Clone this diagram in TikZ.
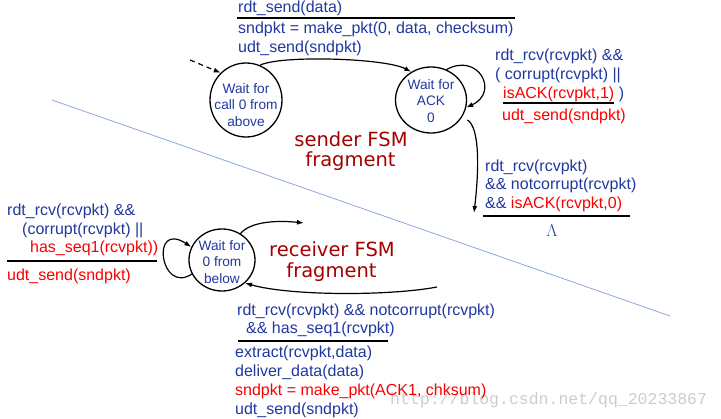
\documentclass[tikz,border=0pt]{standalone}
\usepackage{fontspec}
\setmainfont{Liberation Sans}
\newfontfamily\fsmfont{DejaVu Sans}
\newfontfamily\wmfont{Liberation Mono}
\usetikzlibrary{shapes.geometric,arrows.meta}
\definecolor{tblue}{RGB}{32,56,160}
\definecolor{tred}{RGB}{250,0,0}
\definecolor{fsmred}{RGB}{165,0,0}
\definecolor{divline}{RGB}{140,165,225}
\begin{document}
\begin{tikzpicture}[x=1pt,y=-1pt,
 lbl/.style={anchor=base west, inner sep=0pt, font=\fontsize{16}{19}\selectfont, text=tblue},
 state/.style={ellipse, draw, line width=1.3pt, inner sep=0pt},
 stxt/.style={align=center, inner sep=0pt, font=\fontsize{13.7}{16.5}\selectfont, text=tblue},
 rulel/.style={line width=2pt},
 arr/.style={line width=1.2pt, -{Latex[length=7pt,width=5pt]}},
 fsm/.style={inner sep=0pt, anchor=base, font=\fsmfont\fontsize{19.5}{20}\selectfont, text=fsmred}]
\path[use as bounding box] (0,0) rectangle (721,419);

% watermark
\node[anchor=base west, inner sep=0pt, font=\wmfont\fontsize{16.5}{17}\selectfont, text=black!20] (wm) at (390,405) {http://blog.csdn.net/qq\_20233867};

% divider
\coordinate (d1) at (52,100);
\coordinate (d2) at (670,316);
\draw[divline, line width=0.8pt] (d1) -- (d2);

% top transition
\node[lbl] (t1) at (238,13) {rdt\_send(data)};
\draw[rulel] (237,18.5) -- (515,18.5);
\node[lbl] (t2) at (238,34) {sndpkt = make\_pkt(0, data, checksum)};
\node[lbl] (t3) at (238,52.5) {udt\_send(sndpkt)};

% right top
\node[lbl] (r1) at (495,61) {rdt\_rcv(rcvpkt) \&\&};
\node[lbl] (r2) at (495,80) {( corrupt(rcvpkt) ||};
\node[lbl] (r3) at (503,99) {\textcolor{tred}{isACK(rcvpkt,1)} )};
\draw[rulel] (503,103.5) -- (614,103.5);
\node[lbl,text=tred] (r4) at (502,121) {udt\_send(sndpkt)};

% right middle
\node[lbl] (m1) at (485,171.5) {rdt\_rcv(rcvpkt)};
\node[lbl] (m2) at (485,190) {\&\& notcorrupt(rcvpkt)};
\node[lbl] (m3) at (485,208.5) {\&\& \textcolor{tred}{isACK(rcvpkt,0)}};
\draw[rulel] (483,216) -- (630,216);
\node[lbl,anchor=base] (lam) at (552,237) {$\Lambda$};

% left
\node[lbl] (l1) at (7,216) {rdt\_rcv(rcvpkt) \&\&};
\node[lbl] (l2) at (22,235) {(corrupt(rcvpkt) ||};
\node[lbl,text=tred] (l3) at (30,253) {has\_seq1(rcvpkt))};
\draw[rulel] (7,261.5) -- (157,261.5);
\node[lbl,text=tred] (l4) at (7,281) {udt\_send(sndpkt)};

% bottom
\node[lbl] (b1) at (237,316) {rdt\_rcv(rcvpkt) \&\& notcorrupt(rcvpkt)};
\node[lbl] (b2) at (246,333.5) {\&\& has\_seq1(rcvpkt)};
\draw[rulel] (238,341.5) -- (388,341.5);
\node[lbl] (b3) at (235,358) {extract(rcvpkt,data)};
\node[lbl] (b4) at (235,377) {deliver\_data(data)};
\node[lbl,text=tred] (b5) at (235,396) {sndpkt = make\_pkt(ACK1, chksum)};
\node[lbl] (b6) at (235,415) {udt\_send(sndpkt)};

% states
\node[state, minimum width=72pt, minimum height=74pt] (A) at (246,100) {};
\node[stxt] (At) at (246,105) {Wait for\\call 0 from\\above};
\node[state, minimum width=71pt, minimum height=66pt] (B) at (431,100) {};
\node[stxt] (Bt) at (431,101) {Wait for\\ACK\\0};
\node[state, minimum width=66pt, minimum height=62pt] (C) at (222,260) {};
\node[stxt] (Ct) at (222,262) {Wait for\\0 from\\below};

% FSM labels
\node[fsm] (f1) at (351,147) {sender FSM};
\node[fsm] (f2) at (350.5,167) {fragment};
\node[fsm] (f3) at (332,257) {receiver FSM};
\node[fsm] (f4) at (331.5,278) {fragment};

% connectors
\coordinate (s0) at (190,60);
\draw[arr, dash pattern=on 5pt off 4pt] (s0) -- (A.133);
\draw[arr] (A.68) .. controls (280,55) and (385,58) .. (B.125);
\draw[arr] (B.63) .. controls (478,52) and (500,92) .. (B.-12);
\coordinate (e1) at (474,213);
\draw[arr, shorten <=6pt] (B.-28) .. controls (480,128) and (479,170) .. (e1);
\draw[arr] (C.205) .. controls (160,295) and (150,220) .. (C.157);
\coordinate (e2) at (304,223);
\draw[arr] (C.55) .. controls (250,222) and (275,220) .. (e2);
\coordinate (s3) at (437,287);
\draw[arr] (s3) .. controls (390,296) and (290,296) .. (C.-45);
\end{tikzpicture}
\end{document}
